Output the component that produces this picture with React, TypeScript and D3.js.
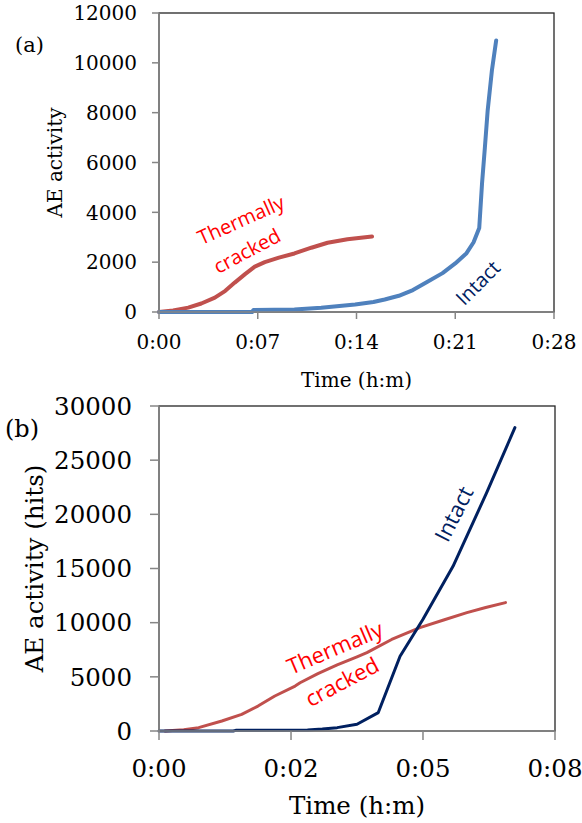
import React from 'react';
import {scaleLinear, line} from 'd3';

// panel (a): time in minutes, cumulative AE activity
const aCrackedT = [0, 1, 2.07, 3, 3.96, 4.7, 5.37, 6.1, 6.79, 7.5, 8.5, 9.6, 10.8, 11.95, 13.36, 15.1]
const aCrackedV = [0, 60, 175, 340, 575, 850, 1180, 1520, 1820, 2000, 2180, 2350, 2580, 2780, 2920, 3030]
const aIntactT = [0, 6.6, 6.7, 9.6, 11.5, 13.9, 15.2, 16, 17, 18, 19, 20.1, 21, 21.8, 22.3, 22.7, 22.9, 23.1, 23.3, 23.6, 23.9]
const aIntactV = [0, 0, 80, 100, 175, 300, 400, 500, 650, 880, 1200, 1560, 1950, 2360, 2800, 3370, 5170, 6600, 8100, 9700, 10900]
const aYTicks = [0, 2000, 4000, 6000, 8000, 10000, 12000]
const aXTicks = [0, 7, 14, 21, 28]
const aXLabels = ['0:00', '0:07', '0:14', '0:21', '0:28']

// panel (b)
const bCrackedT = [0.12, 0.5, 0.8, 1.27, 1.67, 2.0, 2.34, 2.75, 2.85, 3.21, 3.6, 4.0, 4.2, 4.7, 5.27, 5.75, 6.22, 6.6, 7.0]
const bCrackedV = [0, 120, 310, 920, 1540, 2300, 3230, 4150, 4450, 5300, 6100, 6850, 7240, 8450, 9540, 10250, 10930, 11400, 11850]
const bIntactT = [0, 1.5, 1.55, 3.0, 3.3, 3.6, 4.0, 4.43, 4.87, 5.33, 5.94, 6.62, 7.19]
const bIntactV = [0, 0, 60, 100, 180, 310, 620, 1700, 6900, 10300, 15200, 22000, 28000]
const bYTicks = [0, 5000, 10000, 15000, 20000, 25000, 30000]
const bXTicks = [0, 2.667, 5.333, 8]
const bXLabels = ['0:00', '0:02', '0:05', '0:08']

const SERIF = '"DejaVu Serif", serif'
const SANS = '"Open Sans", "Liberation Sans", sans-serif'
const RED_LINE = '#C0504D'
const RED_TEXT = '#FF0000'
const NAVY = '#002060'
const AXIS = '#868686'

const zip = (t, v) => t.map((d, i) => [d, v[i]])

const Panel = ({x0, x1, y0, y1, xMax, yMax, xTicks, xLabels, yTicks, fs, lw, tickLen, labGap, yLabel, tag, series, xLabY, tickLabY, yLabX, children}) => {
    const x = scaleLinear().domain([0, xMax]).range([x0, x1])
    const y = scaleLinear().domain([0, yMax]).range([y1, y0])
    const path = line().x(d => x(d[0])).y(d => y(d[1]))

    return (
        <g>
            <rect x={x0} y={y0} width={x1 - x0} height={y1 - y0} fill="white" stroke="#262626" strokeWidth={1.3}/>
            {series.map((s, i) => (
                <path key={i} d={path(s.data)} fill="none" stroke={s.color} strokeWidth={lw} strokeLinejoin="round" strokeLinecap="round"/>
            ))}
            <line x1={x0} x2={x0} y1={y0} y2={y1} stroke={AXIS} strokeWidth={1.5}/>
            <line x1={x0} x2={x1} y1={y1} y2={y1} stroke={AXIS} strokeWidth={1.5}/>
            {yTicks.map(t => (
                <g key={t}>
                    <line x1={x0 - tickLen} x2={x0} y1={y(t)} y2={y(t)} stroke={AXIS} strokeWidth={1.5}/>
                    <text x={x0 - labGap} y={y(t)} dy="0.36em" textAnchor="end" fontFamily={SERIF} fontSize={fs}>{t}</text>
                </g>
            ))}
            {xTicks.map((t, i) => (
                <g key={t}>
                    <line x1={x(t)} x2={x(t)} y1={y1} y2={y1 + tickLen} stroke={AXIS} strokeWidth={1.5}/>
                    <text x={x(t)} y={tickLabY} textAnchor="middle" fontFamily={SERIF} fontSize={fs}>{xLabels[i]}</text>
                </g>
            ))}
            <text x={(x0 + x1) / 2} y={xLabY} textAnchor="middle" fontFamily={SERIF} fontSize={fs}>Time (h:m)</text>
            <text transform={`translate(${yLabX},${(y0 + y1) / 2}) rotate(-90)`} textAnchor="middle" fontFamily={SERIF} fontSize={fs}>{yLabel}</text>
            <text x={tag[0]} y={tag[1]} fontFamily={SERIF} fontSize={tag[3]}>{tag[2]}</text>
            {children(x, y)}
        </g>
    )
}

const Note = ({at, angle, color, children}) => (
    <text transform={`translate(${at[0]},${at[1]}) rotate(${angle})`} dy="0.35em" textAnchor="middle" fill={color}>{children}</text>
)

export default function App() {
    return (
        <svg width={582} height={823} style={{position: 'absolute', left: 0, top: 0, background: 'white'}}>
            <Panel x0={159} x1={554} y0={13} y1={312} xMax={28} yMax={12000}
                   xTicks={aXTicks} xLabels={aXLabels} yTicks={aYTicks} fs={20} lw={4} tickLen={7} labGap={22}
                   yLabel="AE activity" tag={[15, 52, '(a)', 21]} xLabY={387} tickLabY={349} yLabX={62}
                   series={[
                       {data: zip(aCrackedT, aCrackedV), color: RED_LINE},
                       {data: zip(aIntactT, aIntactV), color: '#4F81BD'},
                   ]}>
                {(x, y) => (
                    <g fontFamily={SANS} fontSize={20}>
                        <Note at={[241, 220]} angle={-24} color={RED_TEXT}>Thermally</Note>
                        <Note at={[247, 251]} angle={-28} color={RED_TEXT}>cracked</Note>
                        <Note at={[478, 283]} angle={-45} color={NAVY}>Intact</Note>
                    </g>
                )}
            </Panel>
            <Panel x0={159} x1={555} y0={406} y1={731} xMax={8} yMax={30000}
                   xTicks={bXTicks} xLabels={bXLabels} yTicks={bYTicks} fs={24.5} lw={3} tickLen={9} labGap={27}
                   yLabel="AE activity (hits)" tag={[5, 437, '(b)', 24]} xLabY={814} tickLabY={777} yLabX={43}
                   series={[
                       {data: zip(bCrackedT, bCrackedV), color: RED_LINE},
                       {data: zip(bIntactT, bIntactV), color: NAVY},
                   ]}>
                {(x, y) => (
                    <g fontFamily={SANS} fontSize={22}>
                        <Note at={[335, 648]} angle={-23} color={RED_TEXT}>Thermally</Note>
                        <Note at={[342, 682]} angle={-28} color={RED_TEXT}>cracked</Note>
                        <Note at={[454, 514]} angle={-63} color={NAVY} >Intact</Note>
                    </g>
                )}
            </Panel>
        </svg>
    )
}
